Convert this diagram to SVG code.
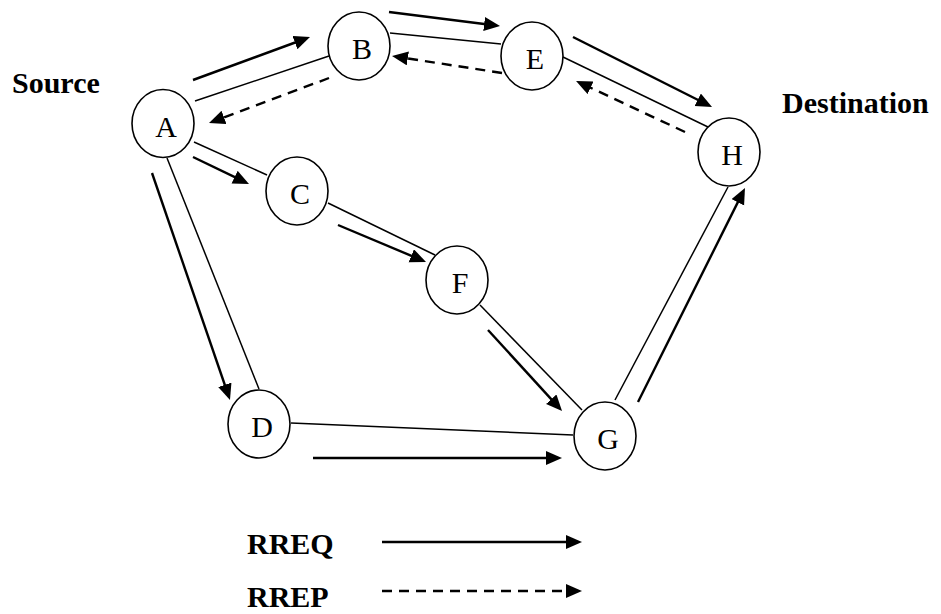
<svg xmlns="http://www.w3.org/2000/svg" width="941" height="614" viewBox="0 0 941 614">
<style>
.node ellipse{fill:#fff;stroke:#000;stroke-width:1.6}
.node text{font-family:"Liberation Serif","Times New Roman",serif;font-size:30px;text-anchor:middle;fill:#000}
.edge{stroke:#000;stroke-width:1.5;fill:none}
.req{stroke:#000;stroke-width:2.4;fill:none;marker-end:url(#ah)}
.rep{stroke:#000;stroke-width:2.4;fill:none;stroke-dasharray:10 7;marker-end:url(#ah)}
.lbl{font-family:"Liberation Serif","Times New Roman",serif;font-size:30px;font-weight:bold;fill:#000}
</style>
<defs>
<marker id="ah" markerUnits="userSpaceOnUse" markerWidth="17" markerHeight="15" refX="6" refY="7" orient="auto">
<path d="M0,0 L16,7 L0,14 Z" fill="#000" stroke="none"/>
</marker>
</defs>
<rect width="941" height="614" fill="#fff"/>
<g id="connectors">
<line class="edge" x1="195" y1="101" x2="329" y2="56"/>
<line class="edge" x1="390" y1="33" x2="501" y2="44"/>
<line class="edge" x1="563" y1="57" x2="708" y2="127"/>
<line class="edge" x1="194" y1="142" x2="267" y2="175"/>
<line class="edge" x1="328" y1="203" x2="435" y2="255"/>
<line class="edge" x1="167" y1="158" x2="259" y2="389"/>
<line class="edge" x1="480" y1="305" x2="582" y2="410"/>
<line class="edge" x1="291" y1="423" x2="573" y2="435"/>
<line class="edge" x1="615" y1="400" x2="728" y2="187"/>
<line class="req" x1="193" y1="80" x2="300.6" y2="40.5"/>
<line class="req" x1="389" y1="12" x2="490.1" y2="24.75"/>
<line class="req" x1="573" y1="37" x2="703.1" y2="102.5"/>
<line class="req" x1="193" y1="157" x2="240" y2="179.7"/>
<line class="req" x1="338" y1="225" x2="416.8" y2="258.1"/>
<line class="req" x1="152" y1="173" x2="226.75" y2="390.5"/>
<line class="req" x1="488" y1="330" x2="555.3" y2="403.6"/>
<line class="req" x1="313" y1="458" x2="552" y2="458"/>
<line class="req" x1="638" y1="402" x2="740.5" y2="196.9"/>
<line class="rep" x1="329" y1="78" x2="218.4" y2="119.5"/>
<line class="rep" x1="502" y1="73" x2="401.9" y2="57.5"/>
<line class="rep" x1="685" y1="132" x2="585.1" y2="85.2"/>
<line class="req" x1="382" y1="542" x2="572" y2="542"/>
<line class="rep" x1="382" y1="591" x2="572" y2="591"/>
</g>
<g id="A" class="node"><ellipse cx="163" cy="123.5" rx="31" ry="34"/><text x="166" y="137">A</text></g>
<g id="B" class="node"><ellipse cx="359" cy="46" rx="31" ry="34"/><text x="362" y="59">B</text></g>
<g id="E" class="node"><ellipse cx="532" cy="56" rx="31" ry="34"/><text x="535" y="69">E</text></g>
<g id="H" class="node"><ellipse cx="729" cy="152" rx="31" ry="34"/><text x="732" y="165">H</text></g>
<g id="C" class="node"><ellipse cx="297" cy="191" rx="31" ry="34"/><text x="300" y="204">C</text></g>
<g id="F" class="node"><ellipse cx="457" cy="280" rx="31" ry="34"/><text x="460" y="293">F</text></g>
<g id="D" class="node"><ellipse cx="259" cy="424" rx="31" ry="34"/><text x="262" y="437">D</text></g>
<g id="G" class="node"><ellipse cx="605" cy="436" rx="31" ry="34"/><text x="608" y="449">G</text></g>
<text class="lbl" x="12" y="93">Source</text>
<text class="lbl" x="782" y="113">Destination</text>
<text class="lbl" x="247" y="554">RREQ</text>
<text class="lbl" x="247" y="607">RREP</text>
</svg>
